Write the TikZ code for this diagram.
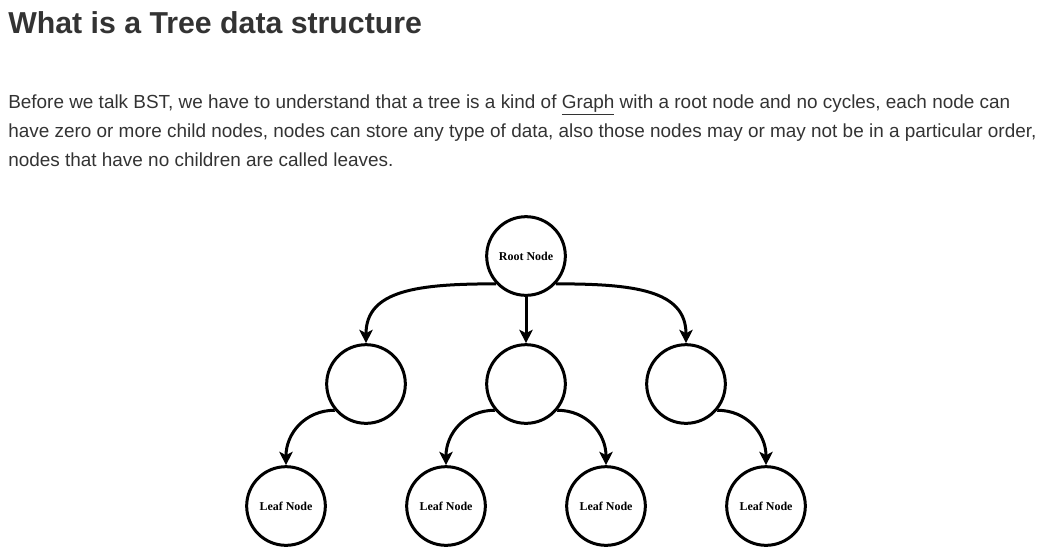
\documentclass[tikz,border=0pt]{standalone}
\usepackage{fontspec}
\setmainfont{Liberation Sans}
\newfontfamily\nodefont{Liberation Serif}
\usepackage{tikz}
\usetikzlibrary{arrows.meta,positioning}
\definecolor{bodytext}{HTML}{333333}
\tikzset{
  tnode/.style  = {circle,draw,line width=2.25pt,minimum size=59pt,inner sep=0pt,
                   font=\nodefont\bfseries\fontsize{9}{10}\selectfont},
  link/.style   = {-{Stealth[length=10pt,width=10pt,inset=2.5pt]},line width=2.25pt},
  head/.style   = {anchor=base west,inner sep=0pt,text=bodytext,
                   font=\bfseries\fontsize{22.7}{26}\selectfont},
  para/.style   = {anchor=base west,inner sep=0pt,text=bodytext,
                   font=\fontsize{14.2}{16}\selectfont},
}

\begin{document}
\begin{tikzpicture}[x=0.75pt,y=-0.75pt]
  \useasboundingbox (0,0) rectangle (1042,558);

  % Heading and text
  \node[head] (title) at (8,33) {What is a Tree data structure};
  \node[para] (line1) at (8,108)
        {Before we talk BST, we have to understand that a tree is a kind of \underline{Graph} with a root node and no cycles, each node can};
  \node[para] (line2) at (8,137)
        {have zero or more child nodes, nodes can store any type of data, also those nodes may or may not be in a particular order,};
  \node[para] (line3) at (8,166)
        {nodes that have no children are called leaves.};

  % Tree nodes
  \node[tnode] (root) at (526,256) {Root Node};
  \node[tnode] (midl) at (366,384) {};
  \node[tnode] (midc) at (526,384) {};
  \node[tnode] (midr) at (686,384) {};
  \node[tnode] (leafa) at (286,506) {Leaf Node};
  \node[tnode] (leafb) at (446,506) {Leaf Node};
  \node[tnode] (leafc) at (606,506) {Leaf Node};
  \node[tnode] (leafd) at (766,506) {Leaf Node};

  % root -> middle row
  \draw[link] (root.223) to[out=180,in=90,out distance=58pt,in distance=40pt] (midl.north);
  \draw[link] (root.south) -- (midc.north);
  \draw[link] (root.317) to[out=0,in=90,out distance=58pt,in distance=40pt] (midr.north);

  % middle row -> leaves
  \draw[link] (midl.220) to[out=180,in=90,out distance=22pt,in distance=24pt] (leafa.north);
  \draw[link] (midc.220) to[out=180,in=90,out distance=22pt,in distance=24pt] (leafb.north);
  \draw[link] (midc.320) to[out=0,in=90,out distance=22pt,in distance=24pt] (leafc.north);
  \draw[link] (midr.320) to[out=0,in=90,out distance=22pt,in distance=24pt] (leafd.north);
\end{tikzpicture}
\end{document}
